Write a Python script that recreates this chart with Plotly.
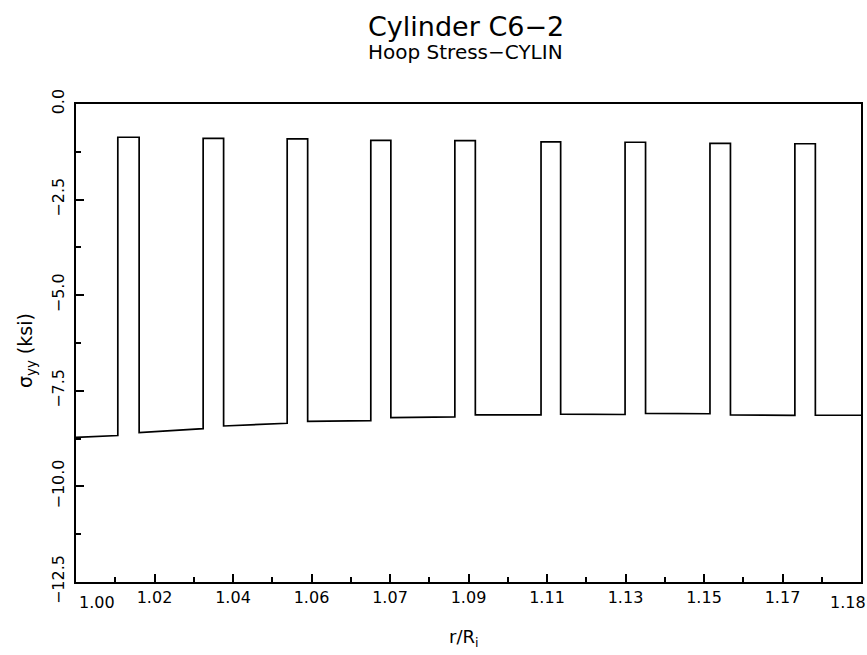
import plotly.graph_objects as go

# ---- data ----
x_start, y_start = 1.000, -8.72
x_end, y_end = 1.184, -8.14

pulse_left = [1.0098, 1.0298, 1.0495, 1.0691, 1.0888, 1.1090, 1.1287, 1.1486, 1.1685]
pulse_right = [1.0148, 1.0346, 1.0543, 1.0738, 1.0936, 1.1136, 1.1335, 1.1534, 1.1733]
pulse_top = [-0.87, -0.90, -0.91, -0.95, -0.96, -0.99, -1.00, -1.03, -1.04]
base_at_left = [-8.67, -8.49, -8.35, -8.28, -8.18, -8.13, -8.12, -8.10, -8.14]
base_at_right = [-8.59, -8.42, -8.30, -8.20, -8.13, -8.11, -8.09, -8.13, -8.14]

x_tick_vals = [1.0 + k * 0.0184 for k in range(11)]
x_tick_text = ["1.00", "1.02", "1.04", "1.06", "1.07", "1.09", "1.11", "1.13", "1.15", "1.17", "1.18"]
x_minor_vals = [1.0092 + k * 0.0184 for k in range(10)]

y_tick_vals = [0, -2.5, -5.0, -7.5, -10.0, -12.5]
y_tick_text = ["0.0", "\u22122.5", "\u22125.0", "\u22127.5", "\u221210.0", "\u221212.5"]
y_minor_vals = [-1.25, -3.75, -6.25, -8.75, -11.25]

# ---- build polyline ----
xs = [x_start]
ys = [y_start]
for L, R, T, bl, br in zip(pulse_left, pulse_right, pulse_top, base_at_left, base_at_right):
    xs += [L, L, R, R]
    ys += [bl, T, T, br]
xs.append(x_end)
ys.append(y_end)

FONT = "DejaVu Sans"

fig = go.Figure()
fig.add_trace(go.Scatter(x=xs, y=ys, mode="lines",
                         line=dict(color="black", width=1.7),
                         hoverinfo="skip"))

axis_common = dict(
    showline=True, linecolor="black", linewidth=2, mirror=True,
    showgrid=False, zeroline=False, ticks="inside", ticklen=8,
    tickwidth=1.5, tickcolor="black", automargin=False,
    tickfont=dict(family=FONT, size=16, color="black"),
)

fig.update_layout(
    width=867, height=655,
    margin=dict(l=76, r=6, t=104, b=73),
    paper_bgcolor="white", plot_bgcolor="white",
    showlegend=False,
    xaxis=dict(
        range=[1.0, 1.184], tickmode="array", tickvals=x_tick_vals[1:-1],
        ticktext=x_tick_text[1:-1],
        minor=dict(tickmode="array", tickvals=x_minor_vals, ticks="inside",
                   ticklen=5, tickwidth=1.5, tickcolor="black", showgrid=False),
        **axis_common,
    ),
    yaxis=dict(
        range=[-12.5, 0], tickmode="array", tickvals=y_tick_vals,
        ticktext=y_tick_text, tickangle=-90, ticklabelstandoff=4,
        minor=dict(tickmode="array", tickvals=y_minor_vals, ticks="inside",
                   ticklen=5, tickwidth=1.5, tickcolor="black", showgrid=False),
        **axis_common,
    ),
)

ann_font = dict(family=FONT, size=16, color="black")
fig.add_annotation(x=x_tick_vals[0], xref="x", y=0, yref="paper",
                   text=x_tick_text[0], showarrow=False, font=ann_font,
                   xanchor="center", yanchor="middle", xshift=21, yshift=-20)
fig.add_annotation(x=x_tick_vals[-1], xref="x", y=0, yref="paper",
                   text=x_tick_text[-1], showarrow=False, font=ann_font,
                   xanchor="center", yanchor="middle", xshift=-13, yshift=-20)

# axis titles
fig.add_annotation(x=0.5, xref="paper", y=0, yref="paper",
                   text="r/R<sub>i</sub>", showarrow=False,
                   font=dict(family=FONT, size=18, color="black"),
                   xanchor="center", yanchor="middle", yshift=-56, xshift=-5)
fig.add_annotation(x=0, xref="paper", y=0.5, yref="paper",
                   text="\u03c3<sub>yy</sub> (ksi)", showarrow=False,
                   font=dict(family=FONT, size=19, color="black"),
                   textangle=-90, xanchor="center", yanchor="middle",
                   xshift=-50, yshift=-8)

# titles
fig.add_annotation(x=0.5, xref="paper", y=1, yref="paper",
                   text="Cylinder C6\u22122", showarrow=False,
                   font=dict(family=FONT, size=27, color="black"),
                   xanchor="center", yanchor="middle", yshift=78, xshift=-3)
fig.add_annotation(x=0.5, xref="paper", y=1, yref="paper",
                   text="Hoop Stress\u2212CYLIN", showarrow=False,
                   font=dict(family=FONT, size=20, color="black"),
                   xanchor="center", yanchor="middle", yshift=52, xshift=-3)

fig.write_html("out.html")
